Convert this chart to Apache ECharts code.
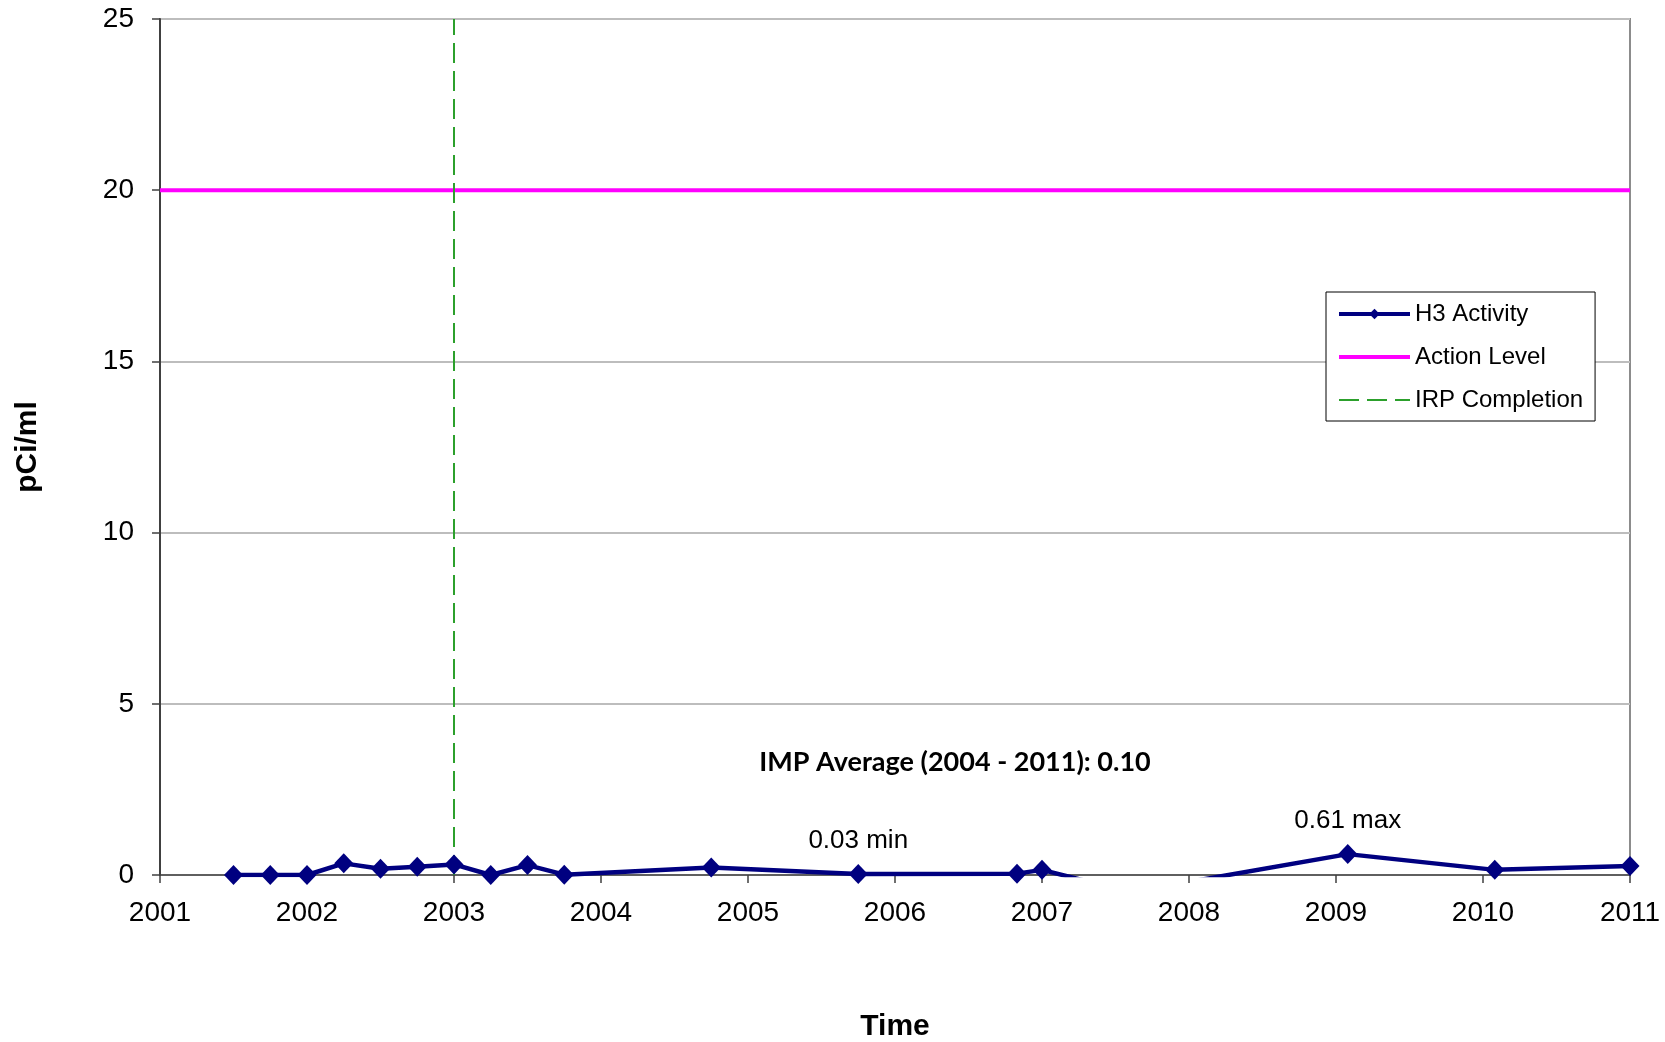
<!DOCTYPE html>
<html>
<head>
<meta charset="utf-8">
<title>H3 Activity</title>
<script src="https://cdn.jsdelivr.net/npm/echarts@6/dist/echarts.min.js"></script>
<style>
  html, body { margin: 0; padding: 0; background: #fff; }
  #chart { width: 1665px; height: 1042px; }
</style>
</head>
<body>
<div id="chart"></div>
<script>
// Sample dates (decimal years) and tritium activity (pCi/ml)
const sampleDates = [
  2001.50, 2001.75, 2002.00, 2002.25, 2002.50, 2002.75, 2003.00, 2003.25,
  2003.50, 2003.75, 2004.75, 2005.75, 2006.83, 2007.00, 2007.50, 2008.00,
  2009.08, 2010.08, 2011.00
];
const h3Values = [
  0.00, 0.00, 0.00, 0.34, 0.18, 0.24, 0.31, 0.00,
  0.29, 0.01, 0.22, 0.03, 0.04, 0.15, -0.39, -0.20,
  0.61, 0.15, 0.26
];
// Point annotations: index into the arrays above -> suffix
const pointNotes = { 11: 'min', 16: 'max' };

// Reference levels
const actionLevel = 20;
const actionSpan = [2001, 2011];
const irpCompletionYear = 2003;
const irpSpan = [0, 25];

// Axis ranges
const xRange = [2001, 2011];
const yRange = [0, 25];

const averageText = 'IMP Average (2004 - 2011): 0.10';

const FONT = '"Liberation Sans", Arial, sans-serif';

const h3Data = sampleDates.map((d, i) => {
  const item = { value: [d, h3Values[i]] };
  if (pointNotes[i]) {
    item.label = {
      show: true,
      position: 'top',
      distance: 10,
      formatter: h3Values[i].toFixed(2) + ' ' + pointNotes[i],
      fontFamily: FONT,
      fontSize: 26,
      color: '#000'
    };
  }
  return item;
});

// Legend entries: plain lines for the two reference levels (no marker)
const noMarker = { opacity: 0 };
const legendData = [
  { name: 'H3 Activity', lineStyle: { width: 4 } },
  { name: 'Action Level', lineStyle: { width: 4 }, itemStyle: noMarker },
  { name: 'IRP Completion', lineStyle: { width: 2 }, itemStyle: noMarker }
];

const chart = echarts.init(document.getElementById('chart'), null, { renderer: 'canvas' });

chart.setOption({
  animation: false,
  backgroundColor: '#fff',
  grid: {
    left: 160, right: 35, top: 19, bottom: 167,
    show: true,
    borderColor: '#8c8c8c',
    borderWidth: 2,
    containLabel: false,
    outerBoundsMode: 'none'
  },
  legend: {
    orient: 'vertical',
    left: 1326,
    top: 292,
    padding: [10, 12, 9, 11],
    itemGap: 19,
    itemWidth: 71,
    itemHeight: 13,
    borderColor: '#000',
    borderWidth: 1,
    backgroundColor: '#fff',
    textStyle: { fontFamily: FONT, fontSize: 24, color: '#000' },
    data: legendData
  },
  xAxis: {
    type: 'value',
    min: xRange[0],
    max: xRange[1],
    interval: 1,
    name: 'Time',
    nameLocation: 'middle',
    nameGap: 137,
    nameTextStyle: { fontFamily: FONT, fontSize: 30, fontWeight: 'bold', color: '#000' },
    axisLine: { show: true, onZero: false, lineStyle: { color: '#404040', width: 1.5 } },
    axisTick: { show: true, length: 8, lineStyle: { color: '#404040', width: 1.5 } },
    axisLabel: {
      margin: 24,
      fontFamily: FONT, fontSize: 28, color: '#000',
      formatter: v => String(v)
    },
    splitLine: { show: false }
  },
  yAxis: {
    type: 'value',
    min: yRange[0],
    max: yRange[1],
    interval: 5,
    name: 'pCi/ml',
    nameLocation: 'middle',
    nameGap: 117,
    nameTextStyle: { fontFamily: FONT, fontSize: 30, fontWeight: 'bold', color: '#000' },
    axisLine: { show: true, lineStyle: { color: '#404040', width: 2 } },
    axisTick: { show: true, length: 8, lineStyle: { color: '#404040', width: 1.5 } },
    axisLabel: { margin: 26, fontFamily: FONT, fontSize: 28, color: '#000' },
    splitLine: { show: true, lineStyle: { color: '#bdbdbd', width: 2 } }
  },
  graphic: [{
    type: 'text',
    x: 955,
    y: 762,
    z: 10,
    style: {
      text: averageText,
      fontFamily: 'Lato, "Open Sans", sans-serif',
      fontWeight: 'bold',
      fontSize: 27,
      fill: '#000',
      align: 'center',
      verticalAlign: 'middle'
    }
  }],
  series: [
    {
      name: 'IRP Completion',
      type: 'line',
      data: [[irpCompletionYear, irpSpan[0]], [irpCompletionYear, irpSpan[1]]],
      symbol: 'none',
      z: 3,
      lineStyle: { color: '#2ca02c', width: 2, type: [20, 8] },
      itemStyle: { color: '#2ca02c' }
    },
    {
      name: 'Action Level',
      type: 'line',
      data: [[actionSpan[0], actionLevel], [actionSpan[1], actionLevel]],
      symbol: 'none',
      z: 2,
      lineStyle: { color: '#ff00ff', width: 4 },
      itemStyle: { color: '#ff00ff' }
    },
    {
      name: 'H3 Activity',
      type: 'line',
      data: h3Data,
      clip: true,
      symbol: 'diamond',
      symbolSize: [19, 20],
      z: 5,
      lineStyle: { color: '#000080', width: 4.5 },
      itemStyle: { color: '#000080' }
    }
  ]
});
</script>
</body>
</html>
